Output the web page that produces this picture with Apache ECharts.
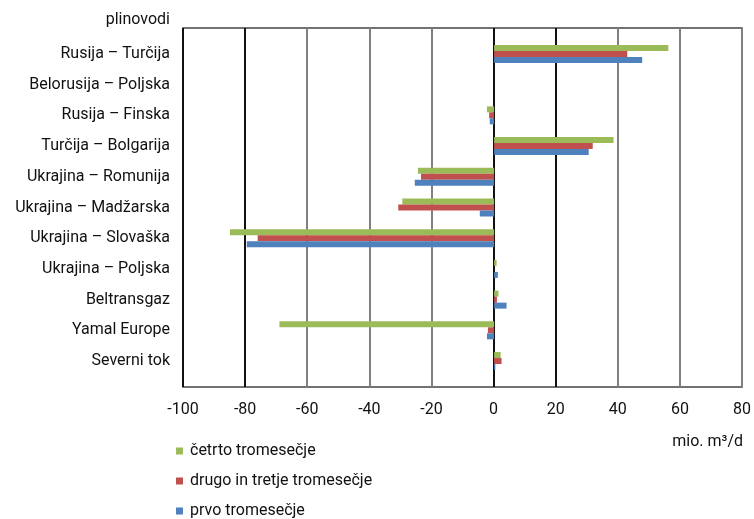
<!DOCTYPE html>
<html><head><meta charset="utf-8">
<script src="https://cdn.jsdelivr.net/npm/echarts@6/dist/echarts.min.js"></script>
<style>html,body{margin:0;padding:0;background:#fff}#c{width:754px;height:519px}</style>
</head><body><div id="c"></div>
<script>
const categories = ['Rusija – Turčija','Belorusija – Poljska','Rusija – Finska','Turčija – Bolgarija','Ukrajina – Romunija','Ukrajina – Madžarska','Ukrajina – Slovaška','Ukrajina – Poljska','Beltransgaz','Yamal Europe','Severni tok'];
const cetrto = [56, 0, -2.3, 38.4, -24.5, -29.5, -84.9, 0.8, 1.4, -69, 2.1];
const drugoTretje = [42.8, 0, -1.6, 31.7, -23.5, -30.8, -76, 0, 0.9, -2.0, 2.4];
const prvo = [47.6, 0, -1.4, 30.4, -25.5, -4.6, -79.5, 1.2, 4.0, -2.3, 0.4];
const seriesNames = ['četrto tromesečje','drugo in tretje tromesečje','prvo tromesečje'];
const xTicks = {min: -100, max: 80, interval: 20};

const FONT = 'Roboto';
const FS = 16;
const chart = echarts.init(document.getElementById('c'), null, {renderer: 'canvas'});
const gridColors = ['#111','#111','#808080','#808080','#808080','#111','#111','#808080','#808080','#808080'];
chart.setOption({
  animation: false,
  textStyle: {fontFamily: FONT},
  title: [
    {text: 'plinovodi', right: 584, top: 12, padding: 0, textStyle: {fontSize: FS, fontWeight: 'normal', color: '#111', fontFamily: FONT}},
    {text: 'mio. m³/d', right: 11, top: 434, padding: 0, textStyle: {fontSize: FS, fontWeight: 'normal', color: '#111', fontFamily: FONT}}
  ],
  legend: {
    orient: 'vertical', left: 176, top: 443, height: 120, padding: 0, itemWidth: 7, itemHeight: 7, itemGap: 14, icon: 'rect',
    data: seriesNames,
    textStyle: {fontSize: FS, color: '#111', fontFamily: FONT, padding: [0,0,0,2]}
  },
  grid: [
    {left: 183, right: 11, top: 28, bottom: 132, show: true, borderColor: '#444', borderWidth: 1.5, containLabel: false},
    {left: 183, right: 11, top: 38.6, bottom: 142.6, containLabel: false}
  ],
  xAxis: [
    {gridIndex: 0, type: 'value', min: xTicks.min, max: xTicks.max, interval: xTicks.interval,
     axisLine: {show: false}, axisTick: {show: false},
     axisLabel: {fontSize: FS, color: '#111', margin: 15, fontFamily: FONT},
     splitLine: {show: true, lineStyle: {color: gridColors, width: 2}}},
    {gridIndex: 1, type: 'value', min: xTicks.min, max: xTicks.max, interval: xTicks.interval, show: false,
     splitLine: {show: false}}
  ],
  yAxis: [
    {gridIndex: 0, type: 'value', min: 0, max: 1, show: false, splitLine: {show: false}},
    {gridIndex: 1, type: 'category', inverse: true, data: categories,
     axisLine: {show: false}, axisTick: {show: false},
     axisLabel: {fontSize: FS, color: '#111', margin: 13, fontFamily: FONT}}
  ],
  series: [
    {name: seriesNames[0], type: 'bar', xAxisIndex: 1, yAxisIndex: 1, data: cetrto, barWidth: 6, barGap: '0%', itemStyle: {color: '#9BBB59'}},
    {name: seriesNames[1], type: 'bar', xAxisIndex: 1, yAxisIndex: 1, data: drugoTretje, barWidth: 6, barGap: '0%', itemStyle: {color: '#C0504D'}},
    {name: seriesNames[2], type: 'bar', xAxisIndex: 1, yAxisIndex: 1, data: prvo, barWidth: 6, barGap: '0%', itemStyle: {color: '#4F81BD'}}
  ]
});
</script></body></html>
